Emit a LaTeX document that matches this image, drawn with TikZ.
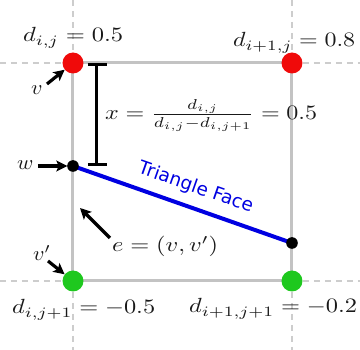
\documentclass[tikz,border=0pt]{standalone}
\usepackage{fontspec}
\usepackage{graphicx}
\newfontfamily\facefont{DejaVu Sans}
\usetikzlibrary{arrows.meta}
\definecolor{dotred}{RGB}{240,10,10}
\definecolor{dotgreen}{RGB}{30,200,30}
\definecolor{faceblue}{RGB}{0,0,225}
\definecolor{gridgray}{RGB}{195,195,195}
\definecolor{dashgray}{RGB}{205,205,205}
\definecolor{txt}{RGB}{25,25,25}
\newsavebox\lblbox
\newcommand{\lblw}[2]{\sbox\lblbox{$#2$}\pgfmathsetmacro\lblxs{#1/\wd\lblbox}\scalebox{\lblxs}[2.05]{\usebox\lblbox}}
\newcommand{\lbl}[1]{\scalebox{2.2}[2.05]{$#1$}}
\begin{document}
\begin{tikzpicture}[x=1pt,y=-1pt,
  corner/.style={circle,inner sep=0pt,minimum size=21pt},
  blackdot/.style={circle,fill=black,inner sep=0pt,minimum size=11pt},
  gridline/.style={gridgray,line width=3pt},
  dashline/.style={dashgray,line width=2.5pt,dash pattern=on 6pt off 5pt},
  arr/.style={line width=3.2pt,-{Stealth[length=11pt,width=11pt,inset=2.5pt]}},
  lab/.style={inner sep=0pt,anchor=base west,text=txt},
]
\useasboundingbox (0,0) rectangle (360,350);
% dashed extensions
\draw[dashline] (73,0) -- (73,63);
\draw[dashline] (292,0) -- (292,63);
\draw[dashline] (73,281) -- (73,350);
\draw[dashline] (292,281) -- (292,350);
\draw[dashline] (0,63) -- (73,63);
\draw[dashline] (292,63) -- (360,63);
\draw[dashline] (0,281) -- (73,281);
\draw[dashline] (292,281) -- (360,281);
% corner nodes
\node[corner] (vA) at (73,63) {};
\node[corner] (vB) at (292,63) {};
\node[corner] (vC) at (73,281) {};
\node[corner] (vD) at (292,281) {};
% square
\draw[gridline] (vA.center) -- (vB.center) -- (vD.center) -- (vC.center) -- cycle;
\fill[dotred] (vA) circle (10.5pt);
\fill[dotred] (vB) circle (10.5pt);
\fill[dotgreen] (vC) circle (10.5pt);
\fill[dotgreen] (vD) circle (10.5pt);
% triangle face edge
\node[blackdot] (w) at (73,166) {};
\node[blackdot] (u) at (292,243) {};
\draw[faceblue,line width=4pt] (w.center) -- node[sloped,above=9pt,pos=0.53,inner sep=0pt,text=faceblue,font=\facefont\fontsize{18.5}{20}\selectfont]{Triangle Face} (u.center);
\fill (w) circle (5.8pt);
\fill (u) circle (5.8pt);
% bracket
\coordinate (bt) at (97,65);
\coordinate (bb) at (97,165);
\draw[line width=3pt] (bt) -- (bb);
\draw[line width=3pt] ([xshift=-9pt]bt) -- ([xshift=10pt]bt);
\draw[line width=3pt] ([xshift=-9pt]bb) -- ([xshift=10pt]bb);
% labels
\node[lab] (lA) at (23,42) {\lblw{100}{d_{i,j}=0.5}};
\node[lab] (lB) at (233,47) {\lblw{122}{d_{i+1,j}=0.8}};
\node[lab] (lC) at (12,314) {\lblw{143}{d_{i,j+1}=-0.5}};
\node[lab] (lD) at (189,313) {\lblw{168}{d_{i+1,j+1}=-0.2}};
\node[lab] (fx) at (105,120) {\lblw{212}{x=\frac{d_{i,j}}{d_{i,j}-d_{i,j+1}}=0.5}};
\node[lab] (lv) at (31,95) {\lbl{v}};
\node[lab] (lw) at (17,170) {\lbl{w}};
\node[lab] (lvp) at (33,261) {\lbl{v'}};
\node[lab] (le) at (112,252) {\lblw{106}{e=(v,v')}};
% arrows
\coordinate (vt) at (47,84);
\coordinate (wt) at (38,166);
\coordinate (vpt) at (48,261);
\coordinate (et) at (110,238);
\coordinate (eh) at (80,208);
\draw[arr] (vt) -- (vA);
\draw[arr] (wt) -- (w);
\draw[arr] (vpt) -- (vC);
\draw[arr] (et) -- (eh);
\end{tikzpicture}
\end{document}
